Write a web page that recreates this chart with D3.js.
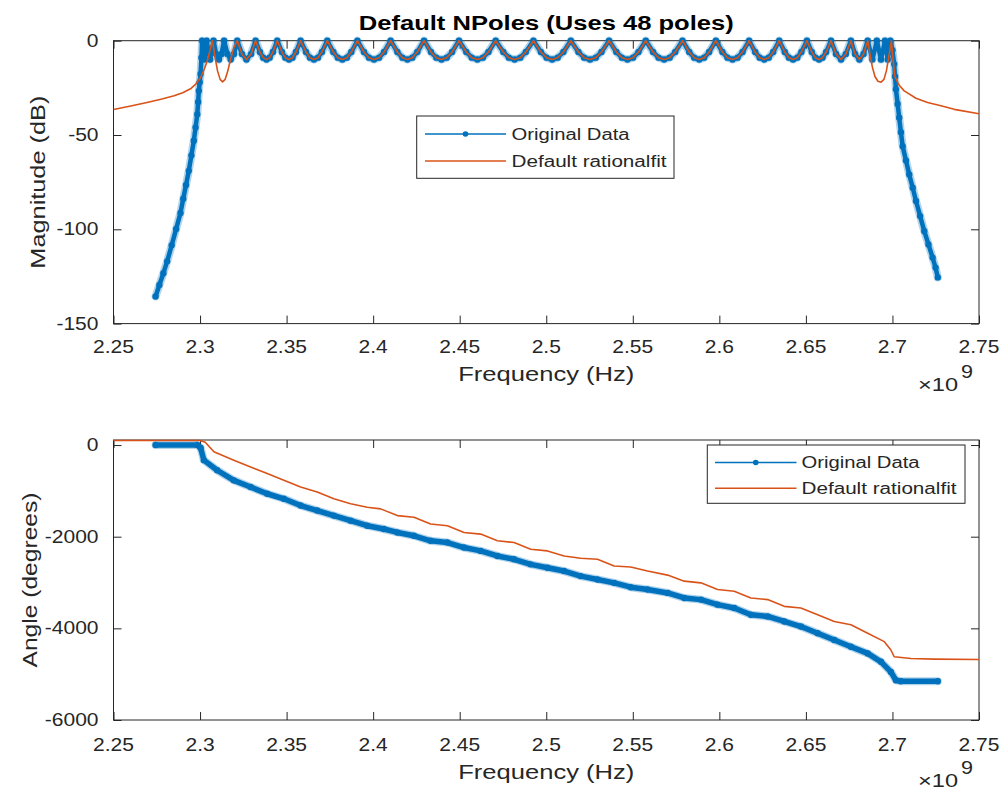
<!DOCTYPE html>
<html><head><meta charset="utf-8">
<script src="https://cdn.jsdelivr.net/npm/d3@7/dist/d3.min.js"></script>
<style>
html,body{margin:0;padding:0;background:#fff;}
svg text{font-family:"Liberation Sans",Arial,Helvetica,sans-serif;fill:#262626;}
</style></head><body>
<svg id="chart" width="1008" height="791"></svg>
<script>
// ---------- tick values / labels ----------
const xTickValues = [2.25,2.3,2.35,2.4,2.45,2.5,2.55,2.6,2.65,2.7,2.75];
const xTickLabels = ["2.25","2.3","2.35","2.4","2.45","2.5","2.55","2.6","2.65","2.7","2.75"];
const magTickValues = [-150,-100,-50,0];
const magTickLabels = ["-150","-100","-50","0"];
const angTickValues = [-6000,-4000,-2000,0];
const angTickLabels = ["-6000","-4000","-2000","0"];
const seriesNames = ["Original Data","Default rationalfit"];

// ---------- magnitude: original data (frequency in units of 1e9 Hz, dB) ----------
const origMagFreq = [2.2743,2.2765,2.2788,2.2810,2.2836,2.2862,2.2887,2.2903,2.2919,2.2935,2.2950,2.2964,2.2974,2.2984,2.2989,2.2993,2.2998,2.3003,2.3008,
2.3012,2.3025,2.3038,2.3058,2.3078,2.3093,2.3109,2.3124,2.3139,2.3158,2.3177,2.3196,2.3215,2.3242,2.3268,2.3295,
2.3321,2.3346,2.3365,2.3384,2.3402,2.3421,
2.3446,2.3473,2.3493,2.3514,2.3534,2.3554,
2.3581,2.3612,2.3635,2.3658,2.3681,2.3704,
2.3735,2.3770,2.3796,2.3822,2.3848,2.3874,
2.3909,2.3947,2.3976,2.4005,2.4034,2.4063,
2.4101,2.4140,2.4169,2.4198,2.4226,2.4255,
2.4294,2.4334,2.4365,2.4395,2.4425,2.4456,
2.4496,2.4538,2.4570,2.4602,2.4634,2.4666,
2.4708,2.4752,2.4784,2.4817,2.4850,2.4882,
2.4926,2.4969,2.5002,2.5034,2.5066,2.5099,
2.5142,2.5186,2.5219,2.5253,2.5286,2.5319,
2.5363,2.5405,2.5437,2.5469,2.5501,2.5533,
2.5575,2.5617,2.5649,2.5681,2.5713,2.5745,
2.5787,2.5826,2.5855,2.5884,2.5912,2.5941,
2.5980,2.6018,2.6047,2.6076,2.6105,2.6134,
2.6172,2.6207,2.6233,2.6259,2.6285,2.6311,
2.6346,2.6378,2.6402,2.6426,2.6450,2.6474,
2.6506,2.6534,2.6555,2.6576,2.6596,2.6617,
2.6645,2.6674,2.6703,2.6731,
2.6760,2.6784,2.6809,2.6833,
2.6857,2.6884,2.6910,2.6934,2.6957,2.6973,2.6988,
2.7000,2.7010,2.7015,2.7020,2.7030,2.7039,2.7049,2.7059,2.7078,2.7097,2.7117,2.7136,2.7160,2.7184,2.7208,2.7232,2.7249,2.7262];
const origMagDb = [-135.6,-129.5,-123.3,-117,-108.5,-99.8,-91.3,-83.8,-76.5,-69,-60.8,-53,-46,-39,-32.5,-26.6,-22,-17.6,-9,
0,-10,0,-10,0,-7,-10,-7,0,-7,-10,-7,0,-7,-10,-7,
0,-6,-9,-10,-9,-6,
0,-6,-9,-10,-9,-6,
0,-6,-9,-10,-9,-6,
0,-6,-9,-10,-9,-6,
0,-6,-9,-10,-9,-6,
0,-6,-9,-10,-9,-6,
0,-6,-9,-10,-9,-6,
0,-6,-9,-10,-9,-6,
0,-6,-9,-10,-9,-6,
0,-6,-9,-10,-9,-6,
0,-6,-9,-10,-9,-6,
0,-6,-9,-10,-9,-6,
0,-6,-9,-10,-9,-6,
0,-6,-9,-10,-9,-6,
0,-6,-9,-10,-9,-6,
0,-6,-9,-10,-9,-6,
0,-6,-9,-10,-9,-6,
0,-6,-9,-10,-9,-6,
0,-7,-10,-7,
0,-7,-10,-7,
0,-10,0,-10,0,-10,0,
-5,-12.4,-19,-25.7,-33.5,-40.8,-48.5,-55.9,-63.5,-70.9,-78,-85,-93,-101,-108,-115,-120.3,-125.5];

// ---------- magnitude: rational fit (edges differ; passband follows the data) ----------
const fitMagFreqLeft = [2.2500,2.2600,2.2700,2.2780,2.2850,2.2900,2.2945,2.2975,2.3003,2.3025,2.3042,2.3058,2.3071,2.3087,2.3101,2.3116,2.3130,2.3145,2.3159,2.3176,2.3194];
const fitMagDbLeft   = [-36.5,-34.6,-32.6,-30.9,-29.2,-27.6,-25.5,-23,-19.5,-15,-10.6,-5,0,-9,-16,-20.5,-21.8,-20.5,-16.5,-10,-4];
const fitMagFreqRight = [2.6870,2.6884,2.6899,2.6916,2.6934,2.6951,2.6965,2.6980,2.6994,2.7003,2.7014,2.7038,2.7068,2.7136,2.7203,2.7280,2.7357,2.7500];
const fitMagDbRight   = [-7,-14,-19,-21.5,-22,-20.5,-16,-8,0,-10,-19,-23.5,-26.6,-30.5,-32.8,-34.5,-36.4,-38.7];
const fitPassbandStart = 2.3215, fitPassbandEnd = 2.6857;

// ---------- phase (degrees) ----------
const origAngFreq = [2.2743,2.2984,2.3003,2.3022,2.3099,2.3195,2.3292,2.3388,2.3484,2.3581,2.3677,2.3773,2.3870,2.3966,2.4062,2.4140,2.4236,2.4332,2.4429,2.4525,2.4621,2.4718,2.4814,2.4910,2.5007,2.5103,2.5199,2.5296,2.5392,2.5488,2.5585,2.5701,2.5797,2.5893,2.5990,2.6086,2.6182,2.6279,2.6375,2.6471,2.6568,2.6664,2.6760,2.6857,2.6934,2.6991,2.7020,2.7049,2.7262];
const origAngDeg  = [0,0,-60,-330,-550,-770,-917,-1063,-1173,-1320,-1430,-1540,-1650,-1760,-1833,-1907,-1980,-2090,-2127,-2237,-2310,-2420,-2493,-2603,-2677,-2750,-2860,-2933,-3007,-3102,-3153,-3227,-3337,-3373,-3483,-3557,-3703,-3740,-3850,-3960,-4107,-4253,-4400,-4547,-4730,-4950,-5133,-5155,-5155];
const fitAngFreq = [2.2500,2.3000,2.3030,2.3080,2.3195,2.3292,2.3388,2.3484,2.3581,2.3677,2.3773,2.3870,2.3966,2.4043,2.4140,2.4236,2.4332,2.4429,2.4525,2.4621,2.4718,2.4814,2.4910,2.5007,2.5103,2.5199,2.5296,2.5392,2.5488,2.5585,2.5701,2.5797,2.5893,2.5990,2.6086,2.6182,2.6279,2.6375,2.6471,2.6568,2.6664,2.6760,2.6857,2.6953,2.6991,2.7010,2.7107,2.7242,2.7500];
const fitAngDeg  = [100,100,60,-147,-330,-477,-623,-770,-917,-1027,-1173,-1283,-1357,-1393,-1540,-1577,-1723,-1760,-1907,-1943,-2090,-2127,-2273,-2310,-2420,-2471,-2493,-2640,-2662,-2750,-2838,-2970,-3007,-3153,-3190,-3337,-3373,-3520,-3557,-3703,-3850,-3923,-4107,-4290,-4473,-4620,-4657,-4671,-4679];

// ---------- build point lists ----------
const zip = (xs, ys) => xs.map((x,i)=>({x, y: ys[i]}));
const origMag = zip(origMagFreq, origMagDb);
const fitMag = zip(fitMagFreqLeft, fitMagDbLeft)
  .concat(origMag.filter(d => d.x >= fitPassbandStart && d.x <= fitPassbandEnd))
  .concat(zip(fitMagFreqRight, fitMagDbRight));
const origAng = zip(origAngFreq, origAngDeg);
const fitAng = zip(fitAngFreq, fitAngDeg);

// ---------- layout ----------
const BLUE = "#0072BD", ORANGE = "#D95319", AX = "#262626";
const svg = d3.select("#chart");
const L = 113.5, R = 979;
const panels = [
  {top: 40.7, bottom: 323.6, domain: [-150, 0], ticks: magTickValues, labels: magTickLabels,
   data: [origMag, fitMag], ylabel: "Magnitude (dB)", ylabelX: 45, ylabelLen: 173,
   tickLabelY: 353, xlabelY: 381, expY: 391,
   legend: {x: 416.7, y: 116, w: 257.3, h: 62.3, row1: 134, row2: 161, lx0: 425, lx1: 506, tx: 511.5}},
  {top: 440, bottom: 720, domain: [-6000, 110], ticks: angTickValues, labels: angTickLabels,
   data: [origAng, fitAng], ylabel: "Angle (degrees)", ylabelX: 37, ylabelLen: 175,
   tickLabelY: 751, xlabelY: 779, expY: 787,
   legend: {x: 707.3, y: 445, w: 257.7, h: 58.3, row1: 462.5, row2: 488.3, lx0: 715, lx1: 796.5, tx: 801.5}}
];

const x = d3.scaleLinear().domain([2.25, 2.75]).range([L, R]);

function stretchText(sel, k) {
  sel.each(function(){
    const w = this.getComputedTextLength();
    d3.select(this).attr("textLength", w * k).attr("lengthAdjust", "spacingAndGlyphs");
  });
}

panels.forEach((p, pi) => {
  const y = d3.scaleLinear().domain(p.domain).range([p.bottom, p.top]);
  const g = svg.append("g");

  // axes box
  g.append("rect").attr("x", L).attr("y", p.top).attr("width", R - L).attr("height", p.bottom - p.top)
    .attr("fill", "#fff").attr("stroke", AX).attr("stroke-width", 1);

  // ticks (inward, mirrored)
  const tl = 8;
  const axB = d3.axisBottom(x).tickValues(xTickValues).tickSize(-tl).tickSizeOuter(0).tickFormat("");
  const axT = d3.axisTop(x).tickValues(xTickValues).tickSize(-tl).tickSizeOuter(0).tickFormat("");
  const axL = d3.axisLeft(y).tickValues(p.ticks).tickSize(-tl).tickSizeOuter(0).tickFormat("");
  const axR = d3.axisRight(y).tickValues(p.ticks).tickSize(-tl).tickSizeOuter(0).tickFormat("");
  [[axB, `translate(0,${p.bottom})`], [axT, `translate(0,${p.top})`], [axL, `translate(${L},0)`], [axR, `translate(${R},0)`]]
    .forEach(([ax, tr]) => {
      const a = g.append("g").attr("transform", tr).call(ax);
      a.select(".domain").remove();
      a.selectAll("line").attr("stroke", AX).attr("stroke-width", 1);
    });

  // tick labels
  const xt = g.append("g").selectAll("text").data(xTickValues).join("text")
    .attr("x", d => x(d)).attr("y", p.tickLabelY).attr("text-anchor", "middle")
    .attr("font-size", 17.5).text((d, i) => xTickLabels[i]);
  stretchText(xt, 1.2);
  const yt = g.append("g").selectAll("text").data(p.ticks).join("text")
    .attr("x", 98.5).attr("y", d => y(d) + 6).attr("text-anchor", "end")
    .attr("font-size", 17.5).text((d, i) => p.labels[i]);
  stretchText(yt, 1.2);

  // axis labels
  g.append("text").attr("x", (L + R) / 2).attr("y", p.xlabelY).attr("text-anchor", "middle")
    .attr("font-size", 19.5).attr("textLength", 176).attr("lengthAdjust", "spacingAndGlyphs")
    .text("Frequency (Hz)");
  g.append("text").attr("transform", `translate(${p.ylabelX},${(p.top + p.bottom) / 2}) rotate(-90)`)
    .attr("text-anchor", "middle").attr("font-size", 19.5)
    .attr("textLength", p.ylabelLen).attr("lengthAdjust", "spacingAndGlyphs").text(p.ylabel);

  // exponent label x10^9
  const ex = g.append("text").attr("x", 918).attr("y", p.expY).attr("font-size", 18.5);
  ex.append("tspan").attr("textLength", 40).attr("lengthAdjust", "spacingAndGlyphs").text("\u00D710");
  ex.append("tspan").attr("x", 961).attr("dy", -13).attr("textLength", 12).attr("lengthAdjust", "spacingAndGlyphs").text("9");

  // data
  const line = d3.line().x(d => x(d.x)).y(d => y(d.y));
  const orig = p.data[0], fit = p.data[1];
  g.append("path").datum(orig).attr("d", line).attr("fill", "none").attr("stroke", BLUE)
    .attr("stroke-width", 8).attr("stroke-opacity", 0.3).attr("stroke-linejoin", "round").attr("stroke-linecap", "round");
  g.append("path").datum(orig).attr("d", line).attr("fill", "none").attr("stroke", BLUE)
    .attr("stroke-width", pi === 0 ? 4.5 : 5.5).attr("stroke-linejoin", "round").attr("stroke-linecap", "round");
  g.append("g").selectAll("circle").data(orig).join("circle")
    .attr("cx", d => x(d.x)).attr("cy", d => y(d.y)).attr("r", 3.2).attr("fill", BLUE);
  g.append("path").datum(fit).attr("d", line).attr("fill", "none").attr("stroke", ORANGE)
    .attr("stroke-width", 1.6).attr("stroke-linejoin", "round");

  // legend
  const lg = p.legend;
  const leg = g.append("g");
  leg.append("rect").attr("x", lg.x).attr("y", lg.y).attr("width", lg.w).attr("height", lg.h)
    .attr("fill", "#fff").attr("stroke", AX).attr("stroke-width", 1);
  leg.append("line").attr("x1", lg.lx0).attr("x2", lg.lx1).attr("y1", lg.row1).attr("y2", lg.row1)
    .attr("stroke", BLUE).attr("stroke-width", 1.6);
  leg.append("circle").attr("cx", (lg.lx0 + lg.lx1) / 2).attr("cy", lg.row1).attr("r", 2.8).attr("fill", BLUE);
  leg.append("line").attr("x1", lg.lx0).attr("x2", lg.lx1).attr("y1", lg.row2).attr("y2", lg.row2)
    .attr("stroke", ORANGE).attr("stroke-width", 1.6);
  leg.append("text").attr("x", lg.tx).attr("y", lg.row1 + 5.8).attr("font-size", 16)
    .attr("textLength", 118).attr("lengthAdjust", "spacingAndGlyphs").text(seriesNames[0]);
  leg.append("text").attr("x", lg.tx).attr("y", lg.row2 + 5.8).attr("font-size", 16)
    .attr("textLength", 155).attr("lengthAdjust", "spacingAndGlyphs").text(seriesNames[1]);
});

// title
svg.append("text").attr("x", (L + R) / 2).attr("y", 30).attr("text-anchor", "middle")
  .attr("font-size", 19.5).attr("font-weight", "bold").style("fill", "#000")
  .attr("textLength", 375).attr("lengthAdjust", "spacingAndGlyphs")
  .text("Default NPoles (Uses 48 poles)");
</script></body></html>
